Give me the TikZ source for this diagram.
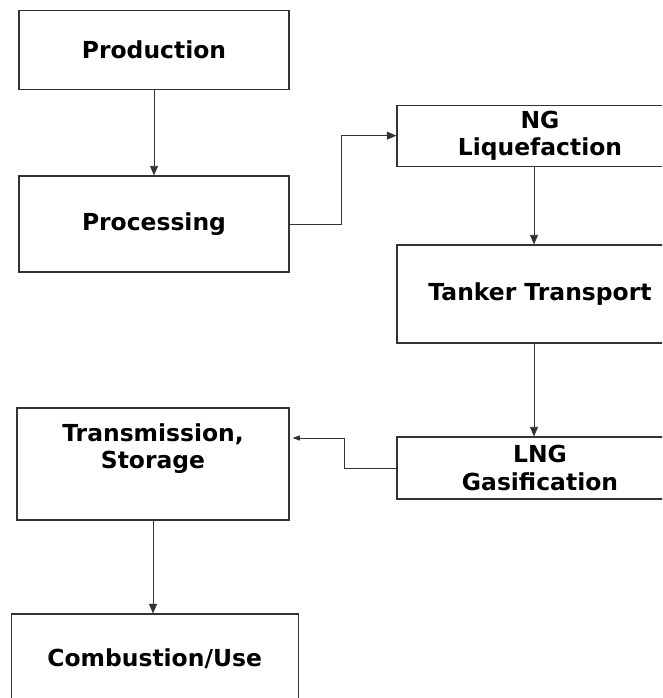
\documentclass[tikz,border=0pt]{standalone}
\usepackage{fontspec}
\setmainfont{DejaVu Sans}
\usetikzlibrary{arrows.meta,positioning}

\begin{document}
\begin{tikzpicture}[
      font=\bfseries\fontsize{20}{23.5}\selectfont,
      stage/.style={draw=black!80, line width=0.9pt, align=center, inner sep=2pt},
      a/.style={-{Triangle[length=2.9mm,width=2.4mm]}, line width=0.8pt, draw=black!80},
    ]
    \useasboundingbox (0,0) rectangle (19.86,-20.94);
    \clip (0,0) rectangle (19.86,-20.94);
    % left column
    \node[stage, minimum width=8.1cm, minimum height=2.37cm]  (prod)  at (4.62,-1.49)  {Production};
    \node[stage, minimum width=8.1cm, minimum height=2.88cm]  (proc)  at (4.62,-6.72)  {Processing};
    % right column (runs off the page)
    \node[stage, minimum width=8.58cm, minimum height=1.83cm] (ngl)   at (16.2,-4.07)  {NG\\Liquefaction};
    \node[stage, minimum width=8.58cm, minimum height=2.94cm] (tank)  at (16.2,-8.82)  {Tanker Transport};
    \node[stage, minimum width=8.58cm, minimum height=1.86cm] (lng)   at (16.2,-14.04) {LNG\\Gasification};
    % back to the left
    \node[stage, minimum width=8.16cm, minimum height=3.36cm] (trans) at (4.59,-13.92) {Transmission,\\Storage\\\strut};
    \node[stage, minimum width=8.61cm, minimum height=2.7cm]  (comb)  at (4.64,-19.77) {Combustion/Use};

    \draw[a] (prod) -- (proc);
    \draw[a] (proc.east) -- ++(1.56,0) |- (ngl.west);
    \draw[a] ([xshift=-0.18cm]ngl.south) -- ([xshift=-0.18cm]tank.north);
    \draw[a] ([xshift=-0.18cm]tank.south) -- ([xshift=-0.18cm]lng.north);
    \draw[a, -{Triangle[length=2.2mm,width=1.5mm]}] (lng.west) -- ++(-1.56,0) |- ([xshift=0.09cm,yshift=0.78cm]trans.east);
    \draw[a] (trans.south) -- (trans.south |- comb.north);
  \end{tikzpicture}
\end{document}
